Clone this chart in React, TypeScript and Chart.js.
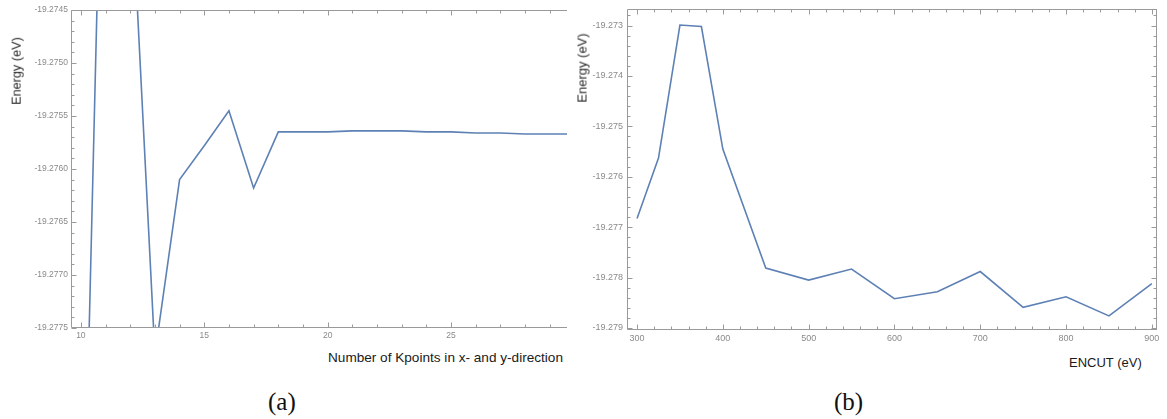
import React, { useEffect, useRef } from 'react';
import { Chart, registerables } from 'chart.js';

Chart.register(...registerables);

// ---- Data (a): Kpoints convergence ----
const kpoints = [10, 11, 12, 13, 14, 15, 16, 17, 18, 19, 20, 21, 22, 23, 24, 25, 26, 27, 28, 29, 30];
const kpointEnergy = [
  -19.28074, -19.27114, -19.27315, -19.27775, -19.2761, -19.27578, -19.27545, -19.27618,
  -19.27565, -19.27565, -19.27565, -19.27564, -19.27564, -19.27564, -19.27565, -19.27565,
  -19.27566, -19.27566, -19.27567, -19.27567, -19.27567,
];
const kXMajorTicks = [10, 15, 20, 25, 30];
const kYMajorStep = 0.0005;

// ---- Data (b): ENCUT convergence ----
const encut = [300, 325, 350, 375, 400, 450, 500, 550, 600, 650, 700, 750, 800, 850, 900];
const encutEnergy = [
  -19.27683, -19.27563, -19.27299, -19.27302, -19.27545, -19.27781, -19.27805, -19.27783,
  -19.27842, -19.27828, -19.27788, -19.27859, -19.27838, -19.27876, -19.27812,
];
const eXMajorTicks = [300, 400, 500, 600, 700, 800, 900];
const eYMajorStep = 0.001;

const LINE_COLOR = '#5E81B5';
const FRAME_COLOR = '#9a9a9a';
const TICK_LABEL_COLOR = '#8a8a8a';

type PanelCfg = {
  xs: number[];
  ys: number[];
  xMin: number;
  xMax: number;
  yMin: number;
  yMax: number;
  xStep: number;
  yStep: number;
  isXMajor: (v: number) => boolean;
  isYMajor: (v: number) => boolean;
  yFmt: (v: number) => string;
  width: number;
  height: number;
  padTop: number;
  padRight: number;
  yAxisWidth: number;
  xAxisHeight: number;
  fontSize: number;
  xLabelPad: number;
  yLabelPad: number;
  rightFrame: boolean;
};

function makeFramePlugin(cfg: PanelCfg) {
  return {
    id: 'mmaFrame',
    afterDatasetsDraw(chart: any) {
      const { ctx, chartArea: a, scales } = chart;
      const x = scales.x;
      const y = scales.y;
      const L = Math.round(a.left) + 0.5;
      const R = Math.round(a.right) - 0.5;
      const T = Math.round(a.top) + 0.5;
      const B = Math.round(a.bottom) - 0.5;
      ctx.save();
      ctx.strokeStyle = FRAME_COLOR;
      ctx.lineWidth = 1;
      ctx.beginPath();
      // frame
      ctx.moveTo(L, T);
      ctx.lineTo(L, B);
      ctx.moveTo(L, B);
      ctx.lineTo(a.right, B);
      ctx.moveTo(L, T);
      ctx.lineTo(a.right, T);
      if (cfg.rightFrame) {
        ctx.moveTo(R, T);
        ctx.lineTo(R, B);
      }
      // x ticks (bottom & top, inward)
      for (const t of x.ticks) {
        const px = Math.round(x.getPixelForValue(t.value)) + 0.5;
        const len = cfg.isXMajor(t.value) ? 5 : 3;
        ctx.moveTo(px, B);
        ctx.lineTo(px, B - len);
        ctx.moveTo(px, T);
        ctx.lineTo(px, T + len);
      }
      // y ticks (left & right, inward)
      for (const t of y.ticks) {
        const py = Math.round(y.getPixelForValue(t.value)) + 0.5;
        const len = cfg.isYMajor(t.value) ? 5 : 3;
        ctx.moveTo(L, py);
        ctx.lineTo(L + len, py);
        if (cfg.rightFrame) {
          ctx.moveTo(R, py);
          ctx.lineTo(R - len, py);
        }
      }
      ctx.stroke();
      ctx.restore();
    },
  };
}

function Panel({ cfg, style }: { cfg: PanelCfg; style: React.CSSProperties }) {
  const ref = useRef<HTMLCanvasElement | null>(null);
  useEffect(() => {
    if (!ref.current) return;
    const font = { family: '"Liberation Sans", Arial, sans-serif', size: cfg.fontSize };
    const chart = new Chart(ref.current, {
      type: 'line',
      data: {
        datasets: [
          {
            data: cfg.xs.map((v, i) => ({ x: v, y: cfg.ys[i] })),
            borderColor: LINE_COLOR,
            borderWidth: 1.6,
            pointRadius: 0,
            pointHoverRadius: 0,
            tension: 0,
            fill: false,
          },
        ],
      },
      options: {
        animation: false,
        responsive: false,
        events: [],
        layout: { padding: { top: cfg.padTop, right: cfg.padRight, left: 0, bottom: 0 } },
        plugins: { legend: { display: false }, tooltip: { enabled: false } },
        scales: {
          x: {
            type: 'linear',
            min: cfg.xMin,
            max: cfg.xMax,
            grid: { display: false, drawTicks: false },
            border: { display: false },
            afterFit: (s: any) => {
              s.height = cfg.xAxisHeight;
            },
            ticks: {
              stepSize: cfg.xStep,
              includeBounds: false,
              autoSkip: false,
              maxRotation: 0,
              minRotation: 0,
              padding: cfg.xLabelPad,
              color: TICK_LABEL_COLOR,
              font,
              callback: (v: any) => (cfg.isXMajor(Number(v)) ? String(Math.round(Number(v))) : ''),
            },
          },
          y: {
            type: 'linear',
            min: cfg.yMin,
            max: cfg.yMax,
            grid: { display: false, drawTicks: false },
            border: { display: false },
            afterFit: (s: any) => {
              s.width = cfg.yAxisWidth;
            },
            ticks: {
              stepSize: cfg.yStep,
              includeBounds: false,
              autoSkip: false,
              padding: cfg.yLabelPad,
              color: TICK_LABEL_COLOR,
              font,
              callback: (v: any) => (cfg.isYMajor(Number(v)) ? cfg.yFmt(Number(v)) : ''),
            },
          },
        },
      },
      plugins: [makeFramePlugin(cfg)],
    } as any);
    return () => chart.destroy();
  }, [cfg]);
  return (
    <canvas
      ref={ref}
      width={cfg.width}
      height={cfg.height}
      style={{ position: 'absolute', width: cfg.width, height: cfg.height, ...style }}
    />
  );
}

const near = (v: number, step: number) => Math.abs(v / step - Math.round(v / step)) < 1e-4;

const cfgA: PanelCfg = {
  xs: kpoints,
  ys: kpointEnergy,
  xMin: 9.6,
  xMax: 29.7,
  yMin: -19.2775,
  yMax: -19.2745,
  xStep: 1,
  yStep: 0.0001,
  isXMajor: (v) => kXMajorTicks.some((m) => Math.abs(m - v) < 1e-6),
  isYMajor: (v) => near(v, kYMajorStep),
  yFmt: (v) => v.toFixed(4),
  width: 568,
  height: 345,
  padTop: 10,
  padRight: 1,
  yAxisWidth: 71,
  xAxisHeight: 17,
  fontSize: 8.5,
  xLabelPad: 3,
  yLabelPad: 3,
  rightFrame: false,
};

const cfgB: PanelCfg = {
  xs: encut,
  ys: encutEnergy,
  xMin: 288.3,
  xMax: 906,
  yMin: -19.27904,
  yMax: -19.27268,
  xStep: 20,
  yStep: 0.0002,
  isXMajor: (v) => eXMajorTicks.some((m) => Math.abs(m - v) < 1e-6),
  isYMajor: (v) => near(v, eYMajorStep),
  yFmt: (v) => v.toFixed(3),
  width: 581,
  height: 345,
  padTop: 1,
  padRight: 10,
  yAxisWidth: 41,
  xAxisHeight: 15,
  fontSize: 9,
  xLabelPad: 3,
  yLabelPad: 4,
  rightFrame: true,
};

const sans = '"Liberation Sans", Arial, sans-serif';

function RotTitle({ text, cx, cy, size }: { text: string; cx: number; cy: number; size: number }) {
  return (
    <div
      style={{
        position: 'absolute',
        left: cx,
        top: cy,
        transform: 'translate(-50%, -50%) rotate(-90deg)',
        whiteSpace: 'nowrap',
        fontFamily: sans,
        fontSize: size,
        lineHeight: 1,
        color: '#2a2a2a',
      }}
    >
      {text}
    </div>
  );
}

function Text({ text, left, cy, size, family, color }: { text: string; left: number; cy: number; size: number; family: string; color: string }) {
  return (
    <div
      style={{
        position: 'absolute',
        left,
        top: cy,
        transform: 'translateY(-50%)',
        whiteSpace: 'nowrap',
        fontFamily: family,
        fontSize: size,
        lineHeight: 1,
        color,
      }}
    >
      {text}
    </div>
  );
}

export default function App() {
  return (
    <div
      style={{
        position: 'absolute',
        left: 0,
        top: 0,
        width: 1167,
        height: 419,
        background: '#ffffff',
        overflow: 'hidden',
      }}
    >
      <Panel cfg={cfgA} style={{ left: 0, top: 0 }} />
      <Panel cfg={cfgB} style={{ left: 586, top: 0 }} />
      <RotTitle text="Energy (eV)" cx={17} cy={71} size={12.7} />
      <RotTitle text="Energy (eV)" cx={582} cy={68} size={13} />
      <Text text="Number of Kpoints in x- and y-direction" left={328} cy={358} size={13.6} family={sans} color="#1a1a1a" />
      <Text text="ENCUT (eV)" left={1069} cy={362} size={13} family={sans} color="#1a1a1a" />
      <Text text="(a)" left={268} cy={401} size={25} family='"Liberation Serif", "Times New Roman", serif' color="#111" />
      <Text text="(b)" left={834} cy={401} size={25} family='"Liberation Serif", "Times New Roman", serif' color="#111" />
    </div>
  );
}
